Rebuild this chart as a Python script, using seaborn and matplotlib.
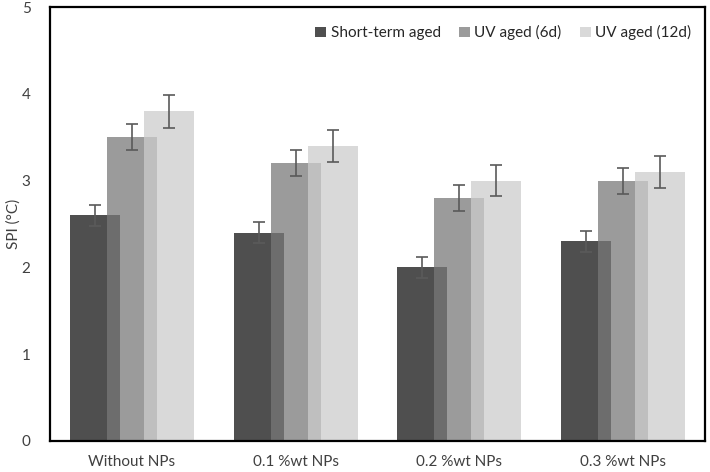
import matplotlib
matplotlib.use("Agg")
import matplotlib.pyplot as plt
import seaborn as sns
import numpy as np
from pandas import DataFrame

categories = ["Without NPs", "0.1 %wt NPs", "0.2 %wt NPs", "0.3 %wt NPs"]
series = ["Short-term aged", "UV aged (6d)", "UV aged (12d)"]
short_term = [2.6, 2.4, 2.0, 2.3]
uv_6d = [3.5, 3.2, 2.8, 3.0]
uv_12d = [3.8, 3.4, 3.0, 3.1]
err_short = [0.12, 0.12, 0.12, 0.12]
err_6d = [0.15, 0.15, 0.15, 0.15]
err_12d = [0.19, 0.18, 0.18, 0.18]

sns.set_style("white")
plt.rcParams["font.family"] = ["Lato", "DejaVu Sans"]

df = DataFrame({
    "category": categories * 3,
    "series": [s for s in series for _ in categories],
    "value": short_term + uv_6d + uv_12d,
    "err": err_short + err_6d + err_12d,
})

colors = ["#111111", "#787878", "#cccccc"]
alpha = 0.74
bar_w = 0.305

fig = plt.figure(figsize=(7.1, 4.72), dpi=100)
ax = fig.add_axes([0.0704, 0.0657, 0.9226, 0.9193])

sns.barplot(data=df, x="category", y="value", hue="series", order=categories,
            hue_order=series, palette=colors, width=0.678, errorbar=None,
            alpha=alpha, linewidth=0, ax=ax, legend=False)

# widen bars so neighbours overlap, then add error bars at their centres
for i, s in enumerate(series):
    sub = df[df["series"] == s]
    cont = ax.containers[i]
    xs = []
    for patch in cont.patches:
        c = patch.get_x() + patch.get_width() / 2
        patch.set_x(c - bar_w / 2)
        patch.set_width(bar_w)
        xs.append(c)
    ax.errorbar(xs, sub["value"], yerr=sub["err"], fmt="none", ecolor="#5a5a5a",
                elinewidth=1.2, capsize=4, capthick=1.2, zorder=5)

handles = [plt.Rectangle((0, 0), 1, 1, color=c, alpha=alpha, linewidth=0) for c in colors]
ax.legend(handles, series, loc="upper right", ncol=3, frameon=False, fontsize=11,
          handlelength=0.7, handleheight=0.7, handletextpad=0.3, columnspacing=1.2,
          bbox_to_anchor=(1.0, 0.99), labelcolor="#262626")

ax.set_xlim(-0.5, 3.5)
ax.set_ylim(0, 5)
ax.set_yticks(range(6))
ax.set_xlabel("")
ax.set_ylabel("SPI (°C)", fontsize=11, color="#404040")
ax.yaxis.set_label_coords(-0.045, 0.5)
ax.tick_params(axis="both", length=0, labelsize=11, labelcolor="#404040")
ax.tick_params(axis="x", pad=10)
ax.tick_params(axis="y", pad=14)
for sp in ax.spines.values():
    sp.set_visible(True)
    sp.set_color("black")
    sp.set_linewidth(1.6)

fig.savefig("out.png", dpi=100)
